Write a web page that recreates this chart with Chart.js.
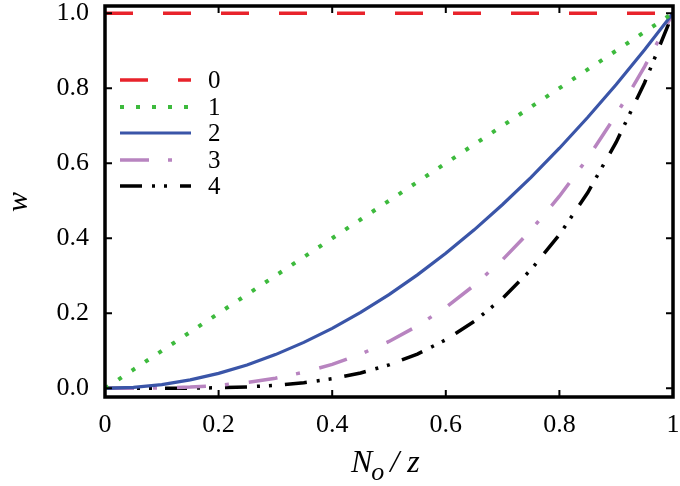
<!DOCTYPE html>
<html>
<head>
<meta charset="utf-8">
<script src="https://cdn.jsdelivr.net/npm/chart.js@4.4.0/dist/chart.umd.min.js"></script>
<style>
  body { margin: 0; background: #fff; }
  #wrap { width: 680px; height: 486px; }
</style>
</head>
<body>
<div id="wrap"><canvas id="wChart" width="680" height="486"></canvas></div>
<script>
// N_o / z values
const xValues = [0, 0.05, 0.1, 0.15, 0.2, 0.25, 0.3, 0.35, 0.4, 0.45, 0.5,
  0.55, 0.6, 0.65, 0.7, 0.75, 0.8, 0.85, 0.9, 0.95, 1];

const w0 = [1, 1, 1, 1, 1, 1, 1, 1, 1, 1, 1, 1, 1, 1, 1, 1, 1, 1, 1, 1, 1];
const w1 = [0, 0.05, 0.1, 0.15, 0.2, 0.25, 0.3, 0.35, 0.4, 0.45, 0.5,
  0.55, 0.6, 0.65, 0.7, 0.75, 0.8, 0.85, 0.9, 0.95, 1];
const w2 = [0, 0.0025, 0.01, 0.0225, 0.04, 0.0625, 0.09, 0.1225, 0.16, 0.2025, 0.25,
  0.3025, 0.36, 0.4225, 0.49, 0.5625, 0.64, 0.7225, 0.81, 0.9025, 1];
const w3 = [0, 0.0001, 0.001, 0.0034, 0.008, 0.0156, 0.027, 0.0429, 0.064, 0.0911, 0.125,
  0.1664, 0.216, 0.2746, 0.343, 0.4219, 0.512, 0.6141, 0.729, 0.8574, 1];
const w4 = [0, 0, 0.0001, 0.0005, 0.0016, 0.0039, 0.0081, 0.015, 0.0256, 0.041, 0.0625,
  0.0915, 0.1296, 0.1785, 0.2401, 0.3164, 0.4096, 0.522, 0.6561, 0.8145, 1];

const seriesLabels = ['0', '1', '2', '3', '4'];
const xTicks = [0, 0.2, 0.4, 0.6, 0.8, 1];
const yTicks = [0, 0.2, 0.4, 0.6, 0.8, 1];

const serif = "Liberation Serif, Times New Roman, Times, serif";

function pts(ys) {
  return xValues.map((x, i) => ({ x: x, y: ys[i] }));
}

const styles = [
  { color: '#e8232b', dash: [28, 30], width: 3.5, cap: 'butt' },
  { color: '#3dba3d', dash: [4, 12], width: 4, cap: 'butt' },
  { color: '#3a55a8', dash: [], width: 3.2, cap: 'butt' },
  { color: '#b884c0', dash: [29, 19, 4, 20], width: 3.5, cap: 'butt' },
  { color: '#000000', dash: [22, 10, 3, 9, 3, 13], width: 3.5, cap: 'butt' },
];

const allSeries = [w0, w1, w2, w3, w4];

const chartData = {
  datasets: allSeries.map((s, i) => ({
    label: seriesLabels[i],
    data: pts(s),
    borderColor: styles[i].color,
    borderDash: styles[i].dash,
    borderWidth: styles[i].width,
    borderCapStyle: styles[i].cap,
    pointRadius: 0,
    tension: 0,
    fill: false,
  })),
};

// frame, inward ticks, legend and axis titles
const framePlugin = {
  id: 'frame',
  afterDraw(chart) {
    const ctx = chart.ctx;
    const a = chart.chartArea;
    const xs = chart.scales.x;
    const ys = chart.scales.y;
    ctx.save();
    ctx.strokeStyle = '#000';
    ctx.lineWidth = 2;
    xs.ticks.forEach((t, i) => {
      const px = xs.getPixelForTick(i);
      ctx.beginPath();
      ctx.moveTo(px, a.bottom); ctx.lineTo(px, a.bottom - 7);
      ctx.moveTo(px, a.top); ctx.lineTo(px, a.top + 7);
      ctx.stroke();
    });
    ys.ticks.forEach((t, i) => {
      const py = ys.getPixelForTick(i);
      ctx.beginPath();
      ctx.moveTo(a.left, py); ctx.lineTo(a.left + 7, py);
      ctx.moveTo(a.right, py); ctx.lineTo(a.right - 7, py);
      ctx.stroke();
    });
    ctx.lineWidth = 3.5;
    ctx.strokeRect(a.left, a.top, a.right - a.left, a.bottom - a.top);

    // legend
    const rowY = [80, 107, 133, 160, 186];
    chart.data.datasets.forEach((ds, i) => {
      ctx.beginPath();
      ctx.strokeStyle = ds.borderColor;
      ctx.lineWidth = ds.borderWidth;
      ctx.lineCap = ds.borderCapStyle;
      ctx.setLineDash(ds.borderDash);
      ctx.moveTo(120, rowY[i]);
      ctx.lineTo(191, rowY[i]);
      ctx.stroke();
      ctx.setLineDash([]);
      ctx.fillStyle = '#000';
      ctx.font = '25px ' + serif;
      ctx.textAlign = 'left';
      ctx.textBaseline = 'alphabetic';
      ctx.fillText(ds.label, 208, rowY[i] + 8);
    });

    // axis titles
    ctx.fillStyle = '#000';
    ctx.textBaseline = 'alphabetic';
    ctx.font = 'italic 30px ' + serif;
    ctx.save();
    ctx.translate(27, 202);
    ctx.rotate(-Math.PI / 2);
    ctx.textAlign = 'center';
    ctx.fillText('w', 0, 0);
    ctx.restore();

    ctx.textAlign = 'left';
    let x0 = 351;
    const base = 472;
    ctx.font = 'italic 32px ' + serif;
    ctx.fillText('N', x0, base);
    x0 += ctx.measureText('N').width - 1;
    ctx.font = 'italic 26px ' + serif;
    ctx.fillText('o', x0, base + 8);
    x0 += ctx.measureText('o').width + 6;
    ctx.font = 'italic 32px ' + serif;
    ctx.fillText('/', x0, base);
    x0 += ctx.measureText('/').width + 8;
    ctx.fillText('z', x0, base);
    ctx.restore();
  },
};

const myChart = new Chart(document.getElementById('wChart'), {
  type: 'line',
  data: chartData,
  plugins: [framePlugin],
  options: {
    responsive: false,
    animation: false,
    devicePixelRatio: 1,
    layout: { padding: { top: 6, right: 7, left: 0, bottom: 0 } },
    plugins: { legend: { display: false }, tooltip: { enabled: false } },
    scales: {
      x: {
        type: 'linear',
        min: 0,
        max: 1,
        afterBuildTicks: (s) => { s.ticks = xTicks.map(v => ({ value: v })); },
        afterFit: (s) => { s.height = 89; s.paddingLeft = 0; s.paddingRight = 0; },
        grid: { display: false, drawTicks: false },
        border: { display: false },
        ticks: {
          padding: 13,
          color: '#000',
          maxRotation: 0,
          font: { family: serif, size: 26 },
          callback: (v) => (v === 0 || v === 1) ? String(v) : v.toFixed(1),
        },
      },
      y: {
        type: 'linear',
        min: -0.023,
        max: 1.019,
        afterBuildTicks: (s) => { s.ticks = yTicks.map(v => ({ value: v })); },
        afterFit: (s) => { s.width = 105; s.paddingTop = 0; s.paddingBottom = 0; },
        grid: { display: false, drawTicks: false },
        border: { display: false },
        ticks: {
          padding: 16,
          color: '#000',
          font: { family: serif, size: 26 },
          callback: (v) => v.toFixed(1),
        },
      },
    },
  },
});
</script>
</body>
</html>
